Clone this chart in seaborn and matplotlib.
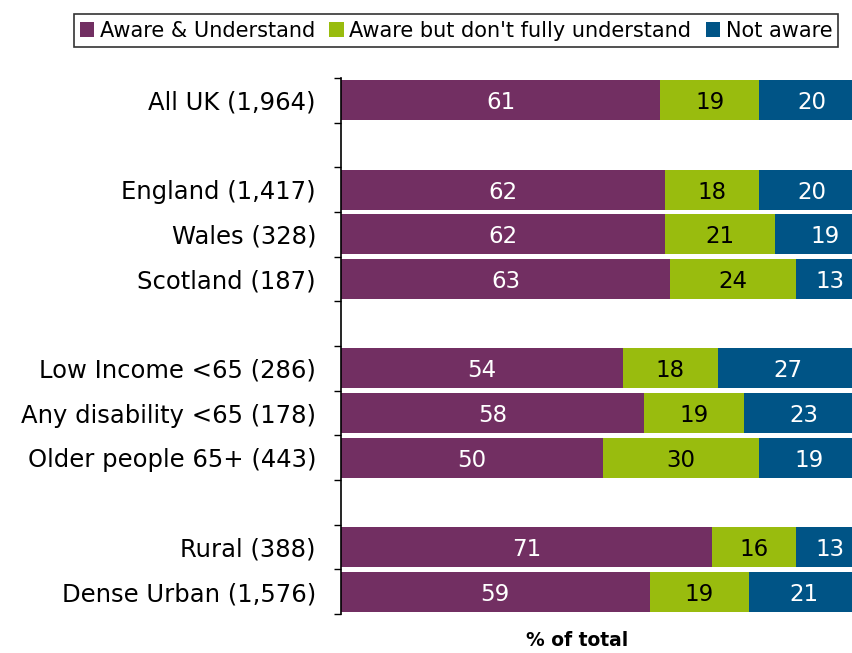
import matplotlib
matplotlib.use("Agg")
import matplotlib.pyplot as plt
import seaborn as sns
import pandas as pd
import numpy as np
from matplotlib.patches import Patch

# Survey groups, with blank spacer rows separating the blocks
groups = ["All UK (1,964)", " ",
          "England (1,417)", "Wales (328)", "Scotland (187)", "  ",
          "Low Income <65 (286)", "Any disability <65 (178)", "Older people 65+ (443)", "   ",
          "Rural (388)", "Dense Urban (1,576)"]
respondents = ["All UK (1,964)", "England (1,417)", "Wales (328)", "Scotland (187)",
               "Low Income <65 (286)", "Any disability <65 (178)", "Older people 65+ (443)",
               "Rural (388)", "Dense Urban (1,576)"]
aware_understand = [61, 62, 62, 63, 54, 58, 50, 71, 59]
aware_partial = [19, 18, 21, 24, 18, 19, 30, 16, 19]
not_aware = [20, 20, 19, 13, 27, 23, 19, 13, 21]

series_names = ["Aware & Understand", "Aware but don't fully understand", "Not aware"]
colors = ["#722F62", "#99BC0E", "#005486"]
text_colors = ["white", "black", "white"]

sns.set_theme(style="white")
plt.rcParams["font.family"] = ["DejaVu Sans"]
plt.rcParams["text.color"] = "black"

df = pd.DataFrame({"group": respondents,
                   "a": aware_understand, "b": aware_partial, "c": not_aware})
df["ab"] = df["a"] + df["b"]
df["abc"] = df["ab"] + df["c"]

fig = plt.figure(figsize=(8.52, 6.53), dpi=100)
W, H = 852, 653
x0, x1 = 341, 864
y_top, y_bot = 78, 614
ax = fig.add_axes([x0 / W, 1 - y_bot / H, (x1 - x0) / W, (y_bot - y_top) / H])

# stacked bars: draw the cumulative totals back to front
for col, c in zip(["abc", "ab", "a"], colors[::-1]):
    sns.barplot(data=df, x=col, y="group", order=groups, orient="h",
                color=c, width=0.9, saturation=1, ax=ax, errorbar=None,
                linewidth=0)

pos = {g: i for i, g in enumerate(groups)}
for _, row in df.iterrows():
    y = pos[row["group"]]
    left = 0
    for val, tc in zip([row["a"], row["b"], row["c"]], text_colors):
        ax.text(left + val / 2, y, f"{val:d}", ha="center", va="center_baseline",
                color=tc, fontsize=16.5)
        left += val

ax.set_xlim(0, 100)
ax.set_ylim(len(groups) - 0.5, -0.5)
ax.set_xlabel("")
ax.set_ylabel("")
ax.set_xticks([])
for s in ["top", "right", "bottom"]:
    ax.spines[s].set_visible(False)
ax.spines["left"].set_color("black")
ax.spines["left"].set_linewidth(1.2)
ax.tick_params(axis="y", which="major", length=0, pad=18, labelsize=17.5, labelcolor="black")
ax.set_yticks(np.arange(-0.5, len(groups), 1.0), minor=True)
ax.tick_params(axis="y", which="minor", length=5, width=1, color="black", direction="out", left=True)

fig.text(577 / W, 1 - 641 / H, "% of total", ha="center", va="center",
         fontsize=13.5, fontweight="bold", color="black")

handles = [Patch(facecolor=c, edgecolor="none") for c in colors]
leg = fig.legend(handles, series_names, loc="upper center", ncol=3,
                 bbox_to_anchor=(456 / W, 1 - 4 / H), fontsize=15,
                 handlelength=0.7, handleheight=0.7, handletextpad=0.25,
                 columnspacing=0.7, borderpad=0.3, frameon=True, fancybox=False)
leg.get_frame().set_edgecolor("black")
leg.get_frame().set_linewidth(1.2)
for t in leg.get_texts():
    t.set_color("black")

fig.savefig("out.png", dpi=100)
